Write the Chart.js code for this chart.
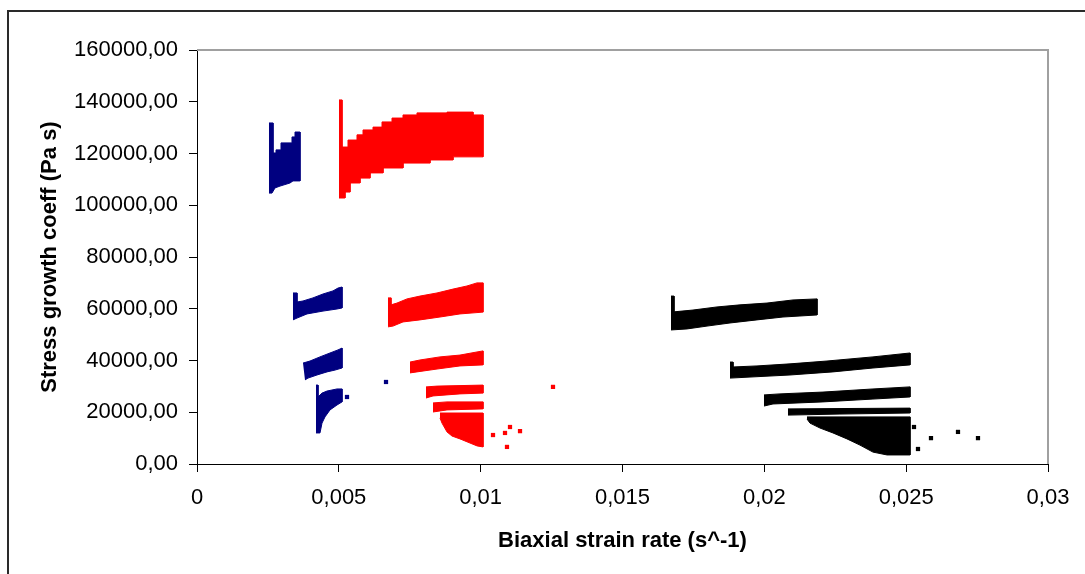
<!DOCTYPE html>
<html>
<head>
<meta charset="utf-8">
<script src="https://cdn.jsdelivr.net/npm/chart.js@4/dist/chart.umd.min.js"></script>
<style>
  html, body { margin: 0; padding: 0; background: #fff; }
  #wrap { width: 1085px; height: 574px; position: relative; }
</style>
</head>
<body>
<div id="wrap"><canvas id="grafico"></canvas></div>
<script>
// axis ticks
const xTicks = [0, 0.005, 0.01, 0.015, 0.02, 0.025, 0.03];
const xTickLabels = ['0', '0,005', '0,01', '0,015', '0,02', '0,025', '0,03'];
const yTicks = [0, 20000, 40000, 60000, 80000, 100000, 120000, 140000, 160000];
const yTickLabels = ['0,00', '20000,00', '40000,00', '60000,00', '80000,00', '100000,00', '120000,00', '140000,00', '160000,00'];

// point clouds: upper and lower edge of every band [strain rate, coeff]
const blueUpper = [
  [[0.002538,131800],[0.002679,131800],[0.002679,120200],[0.002785,120200],[0.002785,121400],[0.002961,121400],[0.002961,124100],[0.003349,124100],[0.003349,126400],[0.003455,126400],[0.003455,128300],[0.003631,128300]],
  [[0.003384,66100],[0.003525,66100],[0.003525,62600],[0.003737,63000],[0.004089,64200],[0.004442,65700],[0.004794,66900],[0.004971,68000],[0.005112,68400]],
  [[0.003737,39000],[0.003984,39800],[0.004336,41400],[0.004689,42900],[0.004971,44100],[0.005112,44800]],
  [[0.004195,30500],[0.004266,30500],[0.004266,25900],[0.004407,27400],[0.004583,28200],[0.004935,29000],[0.005112,29000]]
];
const blueLower = [
  [[0.002538,104700],[0.002644,104700],[0.00275,106700],[0.002926,107400],[0.003278,108600],[0.003384,109400],[0.003631,109400]],
  [[0.003384,55700],[0.003525,56400],[0.003878,58000],[0.004442,59100],[0.004935,59900],[0.005112,60300]],
  [[0.003807,32500],[0.003913,33200],[0.00423,34400],[0.004583,35600],[0.004865,36300],[0.005112,37100]],
  [[0.004195,12000],[0.004336,12000],[0.004407,15800],[0.004512,18200],[0.004689,20900],[0.004935,22800],[0.005112,24000]]
];
const blueLoose = [[0.005288,25900],[0.006663,31700]];

const redUpper = [
  [[0.005006,140700],[0.005112,140700],[0.005112,122500],[0.005288,122500],[0.005323,125200],[0.00564,125200],[0.00564,127200],[0.005852,127200],[0.005852,129100],[0.006204,129100],[0.006204,130200],[0.006522,130200],[0.006522,132200],[0.006874,132200],[0.006874,133700],[0.007262,133700],[0.007262,134900],[0.007755,134900],[0.007755,135700],[0.008813,135700],[0.008813,136000],[0.00973,136000],[0.00973,134900],[0.010082,134900]],
  [[0.006733,64200],[0.006839,64200],[0.006839,61500],[0.00705,62200],[0.007403,63800],[0.007861,64900],[0.008461,66100],[0.009025,67600],[0.009518,68800],[0.009871,70000],[0.010082,70000]],
  [[0.007509,39400],[0.007861,40200],[0.008566,41400],[0.009271,42100],[0.009871,43300],[0.010082,43700]],
  [[0.008073,29800],[0.008461,30100],[0.010082,30500]],
  [[0.00832,23600],[0.008813,24000],[0.010082,24000]],
  [[0.008566,19700],[0.010082,19700]]
];
const redLower = [
  [[0.005006,102800],[0.005217,102800],[0.005217,105100],[0.005394,105100],[0.005394,108600],[0.005746,108600],[0.005746,110500],[0.006099,110500],[0.006099,112500],[0.006557,112500],[0.006557,114400],[0.007262,114400],[0.007262,116300],[0.008214,116300],[0.008214,117500],[0.009025,117500],[0.009025,118700],[0.010082,118700]],
  [[0.006733,53000],[0.006909,53300],[0.007262,54900],[0.007861,55700],[0.008566,56800],[0.009271,58000],[0.010082,58700]],
  [[0.007509,35200],[0.007755,35600],[0.008461,36700],[0.009271,37900],[0.010082,38300]],
  [[0.008073,25500],[0.00832,26300],[0.009271,27100],[0.010082,27400]],
  [[0.00832,20100],[0.008813,20900],[0.010082,21300]],
  [[0.008566,17800],[0.008637,15800],[0.008813,12400],[0.008989,10800],[0.009271,9700],[0.009624,8100],[0.009871,7000],[0.010082,6600]]
];
const redLoose = [[0.010435,11200],[0.010858,12000],[0.010928,6600],[0.011034,14300],[0.011387,12700],[0.01255,29800]];

const blackUpper = [
  [[0.01671,64900],[0.016815,64900],[0.016815,58800],[0.017485,59500],[0.018331,60700],[0.019142,61500],[0.020094,62200],[0.021011,63400],[0.021857,63800]],
  [[0.01879,39400],[0.018895,39400],[0.018895,37500],[0.019741,37900],[0.020905,38700],[0.022209,39800],[0.02383,41400],[0.025135,42900]],
  [[0.019988,26700],[0.020552,27100],[0.022068,27800],[0.02383,29000],[0.025135,29800]],
  [[0.020834,21300],[0.025135,21600]],
  [[0.021504,18200],[0.025135,18200]]
];
const blackLower = [
  [[0.01671,51800],[0.017274,52200],[0.017979,53300],[0.01879,54500],[0.019741,55700],[0.020658,56800],[0.021857,57600]],
  [[0.01879,33200],[0.019495,33600],[0.020905,34400],[0.02242,35600],[0.02383,37100],[0.025135,38300]],
  [[0.019988,22400],[0.020305,23200],[0.022068,24000],[0.02383,25100],[0.025135,25900]],
  [[0.020834,18900],[0.022667,19300],[0.025135,19700]],
  [[0.021504,17400],[0.02161,15800],[0.021962,13900],[0.02242,12000],[0.022914,9700],[0.023372,7300],[0.02383,4600],[0.024324,3500],[0.025135,3500]]
];
const blackLoose = [[0.025276,14300],[0.025417,5800],[0.025875,10000],[0.026827,12400],[0.027532,10000]];

const FONT = "'Liberation Sans', Arial, sans-serif";

// upper edge left to right, then lower edge back, filled as one shape
function bandas(upper, lower, cor) {
    return upper.map(function(topo, i) {
        const pts = topo.concat(lower[i].slice().reverse());
        return {
            type: 'line',
            data: pts.map(p => ({x: p[0], y: p[1]})),
            borderColor: cor,
            backgroundColor: cor,
            borderWidth: 1,
            pointRadius: 0,
            tension: 0,
            fill: 'shape'
        };
    });
}

function soltos(pts, cor) {
    return {
        type: 'scatter',
        data: pts.map(p => ({x: p[0], y: p[1]})),
        backgroundColor: cor,
        borderColor: cor,
        pointStyle: 'rect',
        pointRadius: 3,
        borderWidth: 0
    };
}

const datasets = []
    .concat(bandas(blueUpper, blueLower, '#000080'))
    .concat(bandas(redUpper, redLower, '#ff0000'))
    .concat(bandas(blackUpper, blackLower, '#000000'))
    .concat([soltos(blueLoose, '#000080'), soltos(redLoose, '#ff0000'), soltos(blackLoose, '#000000')]);

// plot area border (grey top/right) and the outer frame
const molduras = {
    id: 'molduras',
    afterDraw(chart) {
        const {ctx, chartArea: a} = chart;
        ctx.save();
        ctx.strokeStyle = '#a0a0a0';
        ctx.lineWidth = 2;
        ctx.beginPath();
        ctx.moveTo(a.left, a.top);
        ctx.lineTo(a.right, a.top);
        ctx.lineTo(a.right, a.bottom);
        ctx.stroke();
        ctx.strokeStyle = '#2a2a2a';
        ctx.lineWidth = 2;
        ctx.strokeRect(8, 11, 1200, 700);
        ctx.restore();
    }
};

new Chart(document.getElementById('grafico'), {
    type: 'scatter',
    data: { datasets: datasets },
    options: {
        responsive: true,
        maintainAspectRatio: false,
        animation: false,
        layout: { padding: { top: 50, right: 37, left: 0, bottom: 0 } },
        plugins: { legend: { display: false }, tooltip: { enabled: false } },
        scales: {
            x: {
                type: 'linear',
                min: 0,
                max: 0.03,
                afterFit: s => { s.height = 110; },
                afterBuildTicks: s => { s.ticks = xTicks.map(v => ({value: v})); },
                grid: { drawOnChartArea: false, color: '#000', tickLength: 8 },
                border: { color: '#000', width: 1 },
                ticks: {
                    padding: 13,
                    color: '#000',
                    font: { family: FONT, size: 22 },
                    maxRotation: 0,
                    callback: (v, i) => xTickLabels[i]
                },
                title: {
                    display: true,
                    text: 'Biaxial strain rate (s^-1)',
                    color: '#000',
                    font: { family: FONT, size: 22, weight: 'bold' },
                    padding: { top: 0, bottom: 20 }
                }
            },
            y: {
                type: 'linear',
                min: 0,
                max: 160000,
                afterFit: s => { s.width = 197; },
                afterBuildTicks: s => { s.ticks = yTicks.map(v => ({value: v})); },
                grid: { drawOnChartArea: false, color: '#000', tickLength: 8 },
                border: { color: '#000', width: 1 },
                ticks: {
                    padding: 11,
                    color: '#000',
                    font: { family: FONT, size: 22 },
                    callback: (v, i) => yTickLabels[i]
                },
                title: {
                    display: true,
                    text: 'Stress growth coeff (Pa s)',
                    color: '#000',
                    font: { family: FONT, size: 22, weight: 'bold' },
                    padding: { top: 37, bottom: 0 }
                }
            }
        }
    },
    plugins: [molduras]
});
</script>
</body>
</html>
